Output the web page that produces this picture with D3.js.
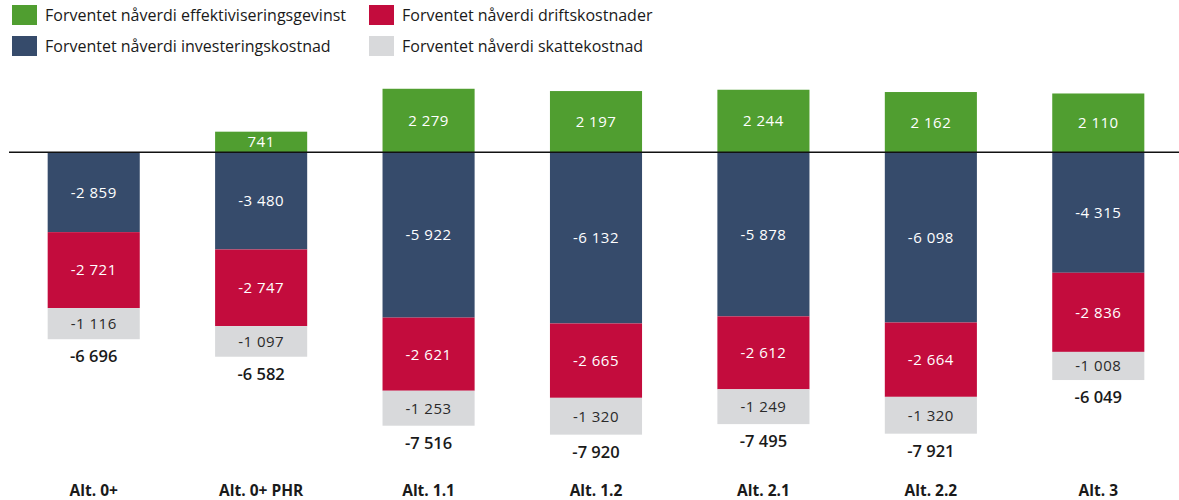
<!DOCTYPE html>
<html>
<head>
<meta charset="utf-8">
<script src="https://cdn.jsdelivr.net/npm/d3@7"></script>
<style>
  html, body { margin: 0; padding: 0; background: #fff; }
  svg { display: block; font-family: "Open Sans", "Noto Sans", sans-serif; }
</style>
</head>
<body>
<svg id="chart" width="1179" height="500"></svg>
<script>
// Categories and series (NOK millions, net present value)
const categories = ["Alt. 0+", "Alt. 0+ PHR", "Alt. 1.1", "Alt. 1.2", "Alt. 2.1", "Alt. 2.2", "Alt. 3"];
const gevinst     = [0, 741, 2279, 2197, 2244, 2162, 2110];
const investering = [-2859, -3480, -5922, -6132, -5878, -6098, -4315];
const drift       = [-2721, -2747, -2621, -2665, -2612, -2664, -2836];
const skatt       = [-1116, -1097, -1253, -1320, -1249, -1320, -1008];
const totals      = [-6696, -6582, -7516, -7920, -7495, -7921, -6049];

const seriesNames = [
  "Forventet nåverdi effektiviseringsgevinst",
  "Forventet nåverdi driftskostnader",
  "Forventet nåverdi investeringskostnad",
  "Forventet nåverdi skattekostnad"
];

const colors = {
  gevinst: "#509e30",
  investering: "#364b6b",
  drift: "#c30c3d",
  skatt: "#d8d9db"
};

const svg = d3.select("#chart");
const W = 1179;

const locale = d3.formatLocale({ decimal: ",", thousands: "\u2009", grouping: [3], currency: ["", " kr"], minus: "-" });
const fmt = v => locale.format(",d")(v).replace(/\u2009/g, " ");

const x = d3.scaleBand().domain(categories).range([10, 1182]).paddingInner(0.45).paddingOuter(0.225);
const y = d3.scaleLinear().domain([2500, -11000]).range([82.6, 459.3]);

// Stack: positive gain above zero; costs stacked downward in order
const layers = [
  { key: "gevinst", values: gevinst, text: "#ffffff" },
  { key: "investering", values: investering, text: "#ffffff" },
  { key: "drift", values: drift, text: "#ffffff" },
  { key: "skatt", values: skatt, text: "#2a2a2a" }
];

const rows = categories.map((c, i) => {
  let neg = 0;
  const segs = layers.map(l => {
    const v = l.values[i];
    let y0, y1;
    if (v >= 0) { y0 = 0; y1 = v; }
    else { y0 = neg; y1 = neg + v; neg = y1; }
    return { key: l.key, v, y0, y1, text: l.text };
  });
  return { cat: c, segs, bottom: neg, total: totals[i] };
});

const bars = svg.append("g");
rows.forEach(r => {
  const g = bars.append("g");
  r.segs.filter(s => s.v !== 0).forEach(s => {
    const top = y(Math.max(s.y0, s.y1));
    const bot = y(Math.min(s.y0, s.y1));
    g.append("rect")
      .attr("x", x(r.cat))
      .attr("y", top)
      .attr("width", x.bandwidth())
      .attr("height", bot - top)
      .attr("fill", colors[s.key]);
    g.append("text")
      .attr("x", x(r.cat) + x.bandwidth() / 2)
      .attr("y", (top + bot) / 2)
      .attr("dy", "0.36em")
      .attr("text-anchor", "middle")
      .attr("font-size", 15)
      .attr("letter-spacing", 0.5)
      .attr("fill", s.text)
      .text(fmt(s.v));
  });
  g.append("text")
    .attr("x", x(r.cat) + x.bandwidth() / 2)
    .attr("y", y(r.bottom) + 17)
    .attr("dy", "0.36em")
    .attr("text-anchor", "middle")
    .attr("font-size", 16.5)
    .attr("font-weight", 600)
    .attr("fill", "#1a1a1a")
    .text(fmt(r.total));
});

// Zero baseline
svg.append("line")
  .attr("x1", 9).attr("x2", W)
  .attr("y1", y(0)).attr("y2", y(0))
  .attr("stroke", "#111").attr("stroke-width", 1.5);

// Category axis
const xAxis = svg.append("g")
  .attr("transform", "translate(0,490)")
  .call(d3.axisBottom(x).tickSize(0).tickPadding(0));
xAxis.select(".domain").remove();
xAxis.selectAll("text")
  .attr("dy", "0.36em")
  .attr("y", 0)
  .attr("font-size", 15.5)
  .attr("font-weight", 700)
  .attr("font-family", "'Open Sans', sans-serif")
  .attr("fill", "#1a1a1a");

// Legend
const legendItems = [
  { name: seriesNames[0], color: colors.gevinst, col: 0, row: 0 },
  { name: seriesNames[1], color: colors.drift, col: 1, row: 0 },
  { name: seriesNames[2], color: colors.investering, col: 0, row: 1 },
  { name: seriesNames[3], color: colors.skatt, col: 1, row: 1 }
];
const legend = svg.append("g");
legendItems.forEach(d => {
  const lx = d.col === 0 ? 12 : 369;
  const ly = d.row === 0 ? 5 : 36;
  legend.append("rect").attr("x", lx).attr("y", ly).attr("width", 25).attr("height", 20).attr("fill", d.color);
  legend.append("text")
    .attr("x", lx + 33).attr("y", ly + 10).attr("dy", "0.36em")
    .attr("font-size", 16).attr("fill", "#1a1a1a")
    .text(d.name);
});
</script>
</body>
</html>
